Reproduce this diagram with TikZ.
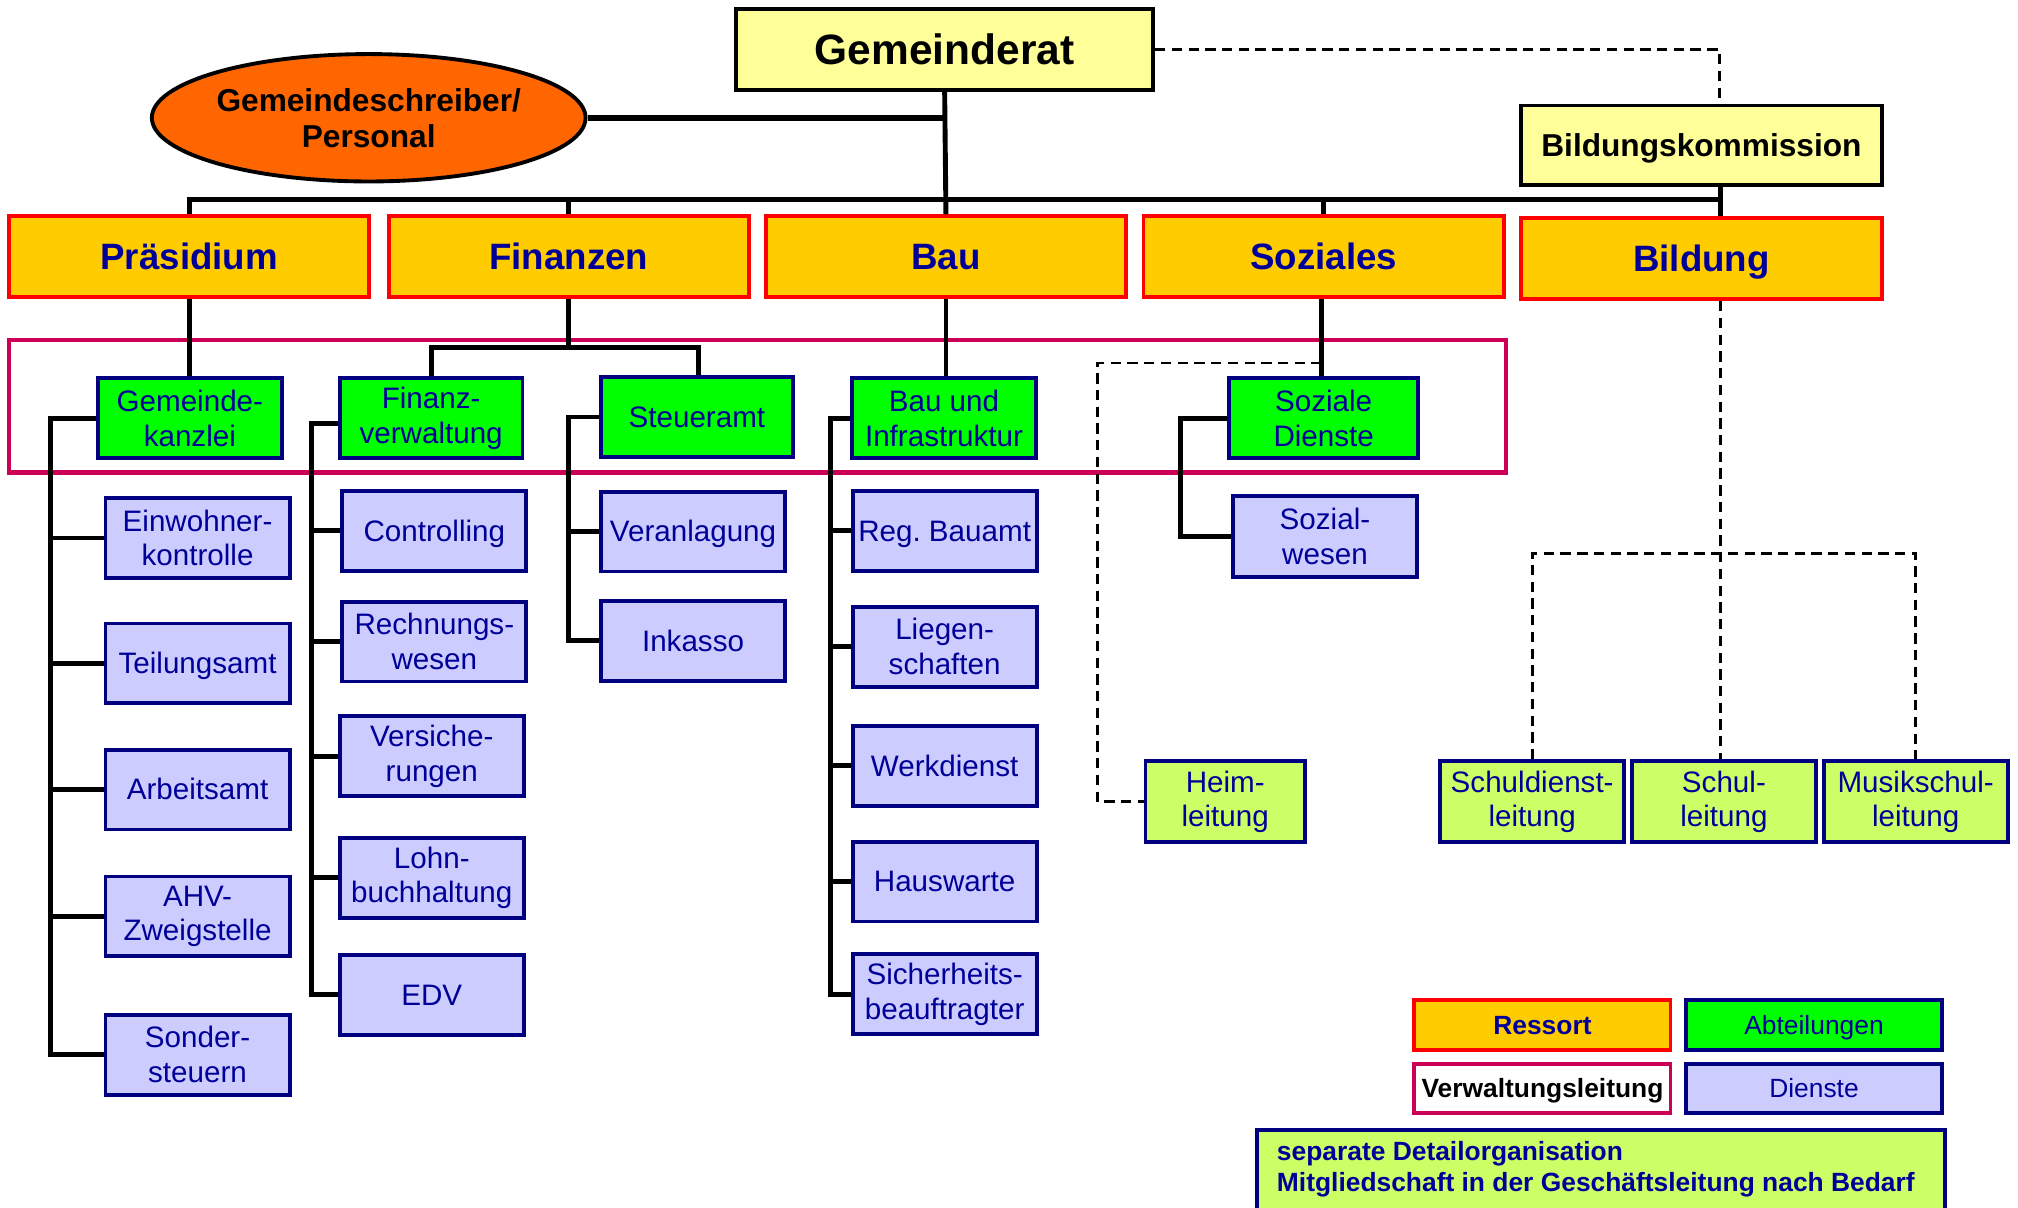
\documentclass[tikz,border=0pt]{standalone}
\usepackage{fontspec}
\setmainfont{Liberation Sans}
\usetikzlibrary{shapes.geometric}
\frenchspacing
\definecolor{gyellow}{HTML}{FFFF99}
\definecolor{eorange}{HTML}{FF6600}
\definecolor{rorange}{HTML}{FFCC00}
\definecolor{rred}{HTML}{FF0000}
\definecolor{agreen}{HTML}{00FF00}
\definecolor{bnavy}{HTML}{000080}
\definecolor{tnavy}{HTML}{000099}
\definecolor{dlav}{HTML}{CCCCFF}
\definecolor{lgreen}{HTML}{CCFF66}
\definecolor{vcrim}{HTML}{CC0055}
\tikzset{
  conn/.style={line width=3.8pt},
  dsh/.style={line width=2.2pt, dash pattern=on 8pt off 5pt},
  base/.style={rectangle, inner sep=0pt, align=center, line width=3pt},
  one/.style={text height=20.8pt, text depth=4.9pt},
  topbox/.style={base, draw=black, fill=gyellow, text=black},
  ressort/.style={base, text height=25.8pt, text depth=6pt, draw=rred, fill=rorange, text=tnavy, font=\bfseries\fontsize{28.5}{32}\selectfont, minimum width=280pt, minimum height=63pt},
  abt/.style={base, draw=bnavy, fill=agreen, text=tnavy, font=\fontsize{23}{27}\selectfont, minimum height=62pt},
  dienst/.style={base, draw=bnavy, fill=dlav, text=tnavy, font=\fontsize{23}{27}\selectfont, minimum width=143pt, minimum height=62pt},
  sepbox/.style={base, draw=bnavy, fill=lgreen, text=tnavy, font=\fontsize{23}{27}\selectfont, minimum width=143pt, minimum height=63pt},
  legbox/.style={base, text height=18.5pt, text depth=4.3pt, font=\fontsize{20.5}{24}\selectfont, minimum width=199pt, minimum height=38pt},
}
\begin{document}
\begin{tikzpicture}[x=1pt,y=-1pt]
\useasboundingbox (0,0) rectangle (1568,938);
\clip (0,0) rectangle (1568,938);

% top level
\node[topbox, text height=29.9pt, text depth=7pt, font=\bfseries\fontsize{33}{38}\selectfont, minimum width=324pt, minimum height=63pt] (gr) at (734,38.5) {Gemeinderat};
\node[ellipse, draw=black, line width=3pt, fill=eorange, inner sep=0pt, minimum width=337pt, minimum height=99pt, align=center, font=\bfseries\fontsize{24.6}{28}\selectfont] (ell) at (286.5,91.5) {Gemeindeschreiber/\\Personal};
\node[topbox, text height=22.3pt, text depth=5.2pt, font=\bfseries\fontsize{24.6}{29}\selectfont, minimum width=280pt, minimum height=62pt] (bk) at (1322,113) {Bildungskommission};

% Ressorts
\node[ressort] (pra) at (147,199.5) {Präsidium};
\node[ressort] (fin) at (442,199.5) {Finanzen};
\node[ressort] (bau) at (735,199.5) {Bau};
\node[ressort] (soz) at (1028.5,199.5) {Soziales};
\node[ressort] (bild) at (1322,201) {Bildung};

% Verwaltungsleitung frame
\node[rectangle, draw=vcrim, line width=3.5pt, inner sep=0pt, minimum width=1163pt, minimum height=103pt] (vl) at (588.5,315.5) {};

% Abteilungen
\node[abt, minimum width=143pt] (gk) at (147.5,325) {Gemeinde-\\kanzlei};
\node[abt, minimum width=142pt] (fv) at (335,325) {Finanz-\\verwaltung};
\node[abt, one, minimum width=149pt] (st) at (541.5,324) {Steueramt};
\node[abt, minimum width=143pt] (bi) at (733.5,325) {Bau und\\Infrastruktur};
\node[abt, minimum width=147pt] (sd) at (1028.5,325) {Soziale\\Dienste};

% Dienste column 1
\node[dienst] (ew) at (153.5,418) {Einwohner-\\kontrolle};
\node[dienst, one] (ta) at (153.5,515.5) {Teilungsamt};
\node[dienst, one] (aa) at (153.5,613.5) {Arbeitsamt};
\node[dienst] (ahv) at (153.5,712) {AHV-\\Zweigstelle};
\node[dienst] (so) at (153.5,819.5) {Sonder-\\steuern};
% column 2
\node[dienst, one] (co) at (337.5,412.5) {Controlling};
\node[dienst] (rw) at (337.5,498.5) {Rechnungs-\\wesen};
\node[dienst] (vs) at (335.5,587.5) {Versiche-\\rungen};
\node[dienst] (lb) at (335.5,682) {Lohn-\\buchhaltung};
\node[dienst, one] (edv) at (335.5,773) {EDV};
% column 3
\node[dienst, one] (va) at (538.5,413) {Veranlagung};
\node[dienst, one] (ik) at (538.5,498) {Inkasso};
% column 4
\node[dienst, one] (rb) at (734,412.5) {Reg. Bauamt};
\node[dienst] (ls) at (734,502.5) {Liegen-\\schaften};
\node[dienst, one] (wd) at (734,595) {Werkdienst};
\node[dienst, one] (hw) at (734,685) {Hauswarte};
\node[dienst] (sb) at (734,772.5) {Sicherheits-\\beauftragter};
% Sozialwesen
\node[dienst, minimum height=63pt] (sw) at (1029.5,417) {Sozial-\\wesen};

% separate organisations
\node[sepbox, minimum width=124pt] (heim) at (952,623) {Heim-\\leitung};
\node[sepbox] (sdl) at (1190.5,623) {Schuldienst-\\leitung};
\node[sepbox] (sl) at (1339.5,623) {Schul-\\leitung};
\node[sepbox] (msl) at (1488.5,623) {Musikschul-\\leitung};

% coordinates
\coordinate (bar) at (0,155);
\coordinate (finbar) at (0,270);
\coordinate (sp1) at (39,0);
\coordinate (sp2) at (242,0);
\coordinate (sp3) at (442,0);
\coordinate (sp4) at (645,0);
\coordinate (sp5) at (917,0);
\coordinate (sozd) at (853,282);
\coordinate (bildd) at (0,430);

% main connectors
\draw[conn] (gr.south) -- (bau.north);
\draw[line width=5pt] (ell.east) -- (ell.east -| gr.south);
\draw[conn] (pra.north) -- (pra.north |- bar) -- ([xshift=15pt]bild.north |- bar) -- ([xshift=15pt]bild.north);
\draw[conn] (fin.north) -- (fin.north |- bar);
\draw[conn] (soz.north) -- (soz.north |- bar);
\draw[conn] ([xshift=15pt]bk.south) -- ([xshift=15pt]bk.south |- bar);
\draw[dsh] (gr.east) -| ([xshift=14pt]bk.north);

% Ressort to Abteilungen
\draw[conn] (pra.south) -- (pra.south |- gk.north);
\draw[conn] (fin.south) -- (fin.south |- finbar);
\draw[conn] (fv.north) |- (fin.south |- finbar) -| ([xshift=1.5pt]st.north);
\draw[conn] (bau.south) -- (bau.south |- bi.north);
\draw[conn] ([xshift=-1.5pt]soz.south) -- ([xshift=-1.5pt]soz.south |- sd.north);

% trees
\draw[conn] (gk.west) -- (gk.west -| sp1) -- (so.west -| sp1) -- (so.west);
\foreach \n in {ew,ta,aa,ahv} \draw[conn] (\n.west -| sp1) -- (\n.west);
\draw[conn] ([yshift=-4pt]fv.west) -- ([yshift=-4pt]fv.west -| sp2) -- (edv.west -| sp2) -- (edv.west);
\foreach \n in {co,rw,vs,lb} \draw[conn] (\n.west -| sp2) -- (\n.west);
\draw[conn] (st.west) -- (st.west -| sp3) -- (ik.west -| sp3) -- (ik.west);
\draw[conn] (va.west -| sp3) -- (va.west);
\draw[conn] (bi.west) -- (bi.west -| sp4) -- (sb.west -| sp4) -- (sb.west);
\foreach \n in {rb,ls,wd,hw} \draw[conn] (\n.west -| sp4) -- (\n.west);
\draw[conn] (sd.west) -- (sd.west -| sp5) -- (sw.west -| sp5) -- (sw.west);

% dashed links
\draw[dsh] ([xshift=-1.5pt]soz.south |- sozd) -- (sozd) |- (heim.west);
\draw[dsh] ([xshift=15pt]bild.south) -- ([xshift=15pt]bild.south |- sl.north);
\draw[dsh] (sdl.north) -- (sdl.north |- bildd) -- (msl.north |- bildd) -- (msl.north);

% legend
\node[legbox, draw=rred, fill=rorange, text=tnavy, font=\bfseries\fontsize{20.5}{24}\selectfont, minimum height=39pt] (lr) at (1198.5,796.5) {Ressort};
\node[legbox, draw=bnavy, fill=agreen, text=tnavy, minimum height=39pt] (la) at (1409.5,796.5) {Abteilungen};
\node[legbox, draw=vcrim, fill=white, text=black, font=\bfseries\fontsize{20.5}{24}\selectfont] (lv) at (1198.5,846) {Verwaltungsleitung};
\node[legbox, draw=bnavy, fill=dlav, text=tnavy] (ld) at (1409.5,846) {Dienste};
\node[base, draw=bnavy, fill=lgreen, minimum width=534pt, minimum height=87pt] (ls2) at (1244,921.5) {};
\node[anchor=north west, inner sep=0pt, align=left, text=tnavy, font=\bfseries\fontsize{20.5}{24}\selectfont] (lstxt) at (992,887) {separate Detailorganisation\\Mitgliedschaft in der Geschäftsleitung nach Bedarf};
\end{tikzpicture}
\end{document}
